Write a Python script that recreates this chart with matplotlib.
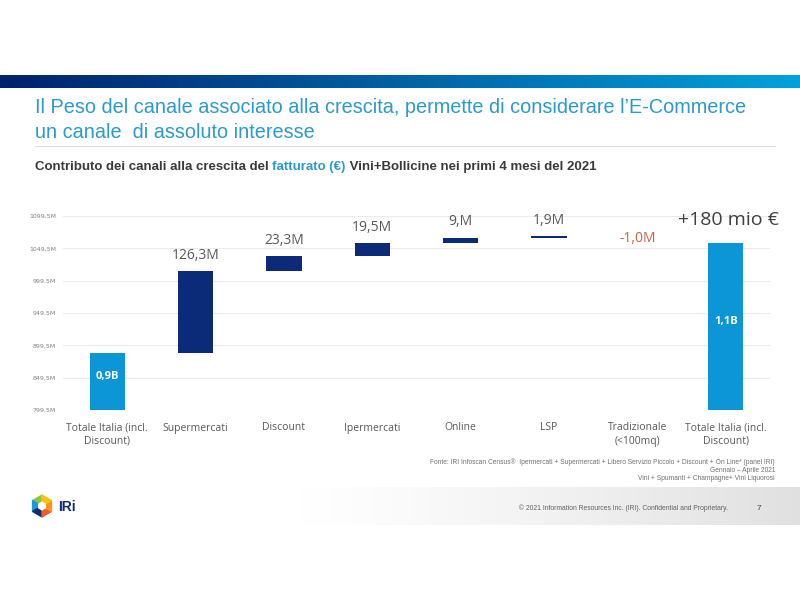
import numpy as np
import matplotlib
matplotlib.use("Agg")
import matplotlib.pyplot as plt
from matplotlib.patches import Polygon

# ---------------- data ----------------
categories = ["Totale Italia (incl.\nDiscount)", "Supermercati", "Discount", "Ipermercati",
              "Online", "LSP", "Tradizionale\n(<100mq)", "Totale Italia (incl.\nDiscount)"]
start_total = 888.0          # M€
deltas = [126.3, 23.3, 19.5, 9.0, 1.9, -1.0]   # M€
end_total = 1058.5           # M€
value_labels = ["0,9B", "126,3M", "23,3M", "19,5M", "9,M", "1,9M", "-1,0M", "1,1B"]
growth_label = "+180 mio €"
yticks = [799.5, 849.5, 899.5, 949.5, 999.5, 1049.5, 1099.5]

NAVY = "#0b2a78"
LIGHT = "#0d96d6"
RED = "#c9623f"
GREY = "#595959"
TITLE_BLUE = "#2b9ad0"

fig = plt.figure(figsize=(8, 6), dpi=100)
W, H = 800, 600

def fx(x): return x / W
def fy(y): return 1 - y / H

# ---------------- header band ----------------
band = fig.add_axes([0, fy(88.5), 1, (88.5 - 75) / H])
grad = np.linspace(0, 1, 256)
c0 = np.array([0/255, 33/255, 108/255])
c1 = np.array([0/255, 162/255, 220/255])
img = c0[None, :] * (1 - grad[:, None]) + c1[None, :] * grad[:, None]
band.imshow(img[None, :, :], aspect="auto", extent=[0, 1, 0, 1])
band.axis("off")

fig.text(fx(35), fy(108), "Il Peso del canale associato alla crescita, permette di considerare l’E-Commerce",
         color=TITLE_BLUE, fontsize=14.3, family="Liberation Sans", va="center", ha="left")
fig.text(fx(35), fy(133), "un canale  di assoluto interesse",
         color=TITLE_BLUE, fontsize=14.3, family="Liberation Sans", va="center", ha="left")
fig.add_artist(plt.Line2D([fx(35), fx(775)], [fy(146), fy(146)], color="#dcdcdc", lw=0.8))

# subtitle with coloured segment
parts = [("Contributo dei canali alla crescita del ", "#3a3a3a"),
         ("fatturato (€)", TITLE_BLUE),
         (" Vini+Bollicine nei primi 4 mesi del 2021", "#3a3a3a")]
fig.canvas.draw()
renderer = fig.canvas.get_renderer()
xcur = 35
for txt, col in parts:
    t = fig.text(fx(xcur), fy(167), txt, color=col, fontsize=9.5, fontweight="bold",
                 family="Liberation Sans", va="center", ha="left")
    bb = t.get_window_extent(renderer=renderer)
    xcur += bb.width

# ---------------- chart ----------------
ax = fig.add_axes([fx(63), fy(410), (770 - 63) / W, (410 - 216) / H])
n = len(categories)
x = np.arange(n)
bottoms, heights, colors = [], [], []
bottoms.append(0); heights.append(start_total); colors.append(LIGHT)
level = start_total
for d in deltas:
    bottoms.append(level if d >= 0 else level + d)
    heights.append(abs(d))
    colors.append(NAVY if d >= 0 else "#ffffff")
    level += d
bottoms.append(0); heights.append(end_total); colors.append(LIGHT)

ax.bar(x, heights, bottom=bottoms, width=0.4, color=colors, zorder=3)
ax.set_xlim(-0.5, n - 0.5)
ax.set_ylim(799.5, 1099.5)
ax.set_yticks(yticks)
ax.set_yticklabels([f"{v:.1f}M".replace(".", ",") for v in yticks])
ax.tick_params(axis="y", length=0, labelsize=4.5, labelcolor="#808080", pad=5)
ax.set_xticks(x)
ax.set_xticklabels(categories, fontsize=7.5, color=GREY, family="Open Sans", linespacing=1.3)
ax.tick_params(axis="x", length=0, pad=9)
ax.grid(axis="y", color="#ebebeb", lw=0.8, zorder=0)
for s in ax.spines.values():
    s.set_visible(False)

# value labels
tops = [b + h for b, h in zip(bottoms, heights)]
for i in range(1, n - 1):
    d = deltas[i - 1]
    if d < 0:
        ax.annotate(value_labels[i], (x[i], bottoms[i]), xytext=(0, -1), textcoords="offset points",
                    ha="center", va="center", fontsize=10, color=RED, family="Open Sans",
                    annotation_clip=False)
    else:
        ax.annotate(value_labels[i], (x[i], tops[i]), xytext=(0, 6), textcoords="offset points",
                    ha="center", va="bottom", fontsize=10, color=GREY, family="Open Sans",
                    annotation_clip=False)
ax.text(x[0], 849.5 + 2, value_labels[0], ha="center", va="center", color="white",
        fontsize=8, fontweight="bold", family="Open Sans", zorder=4)
ax.text(x[-1], 936, value_labels[-1], ha="center", va="center", color="white",
        fontsize=8, fontweight="bold", family="Open Sans", zorder=4)
ax.annotate(growth_label, (x[-1], end_total), xytext=(2, 10), textcoords="offset points",
            ha="center", va="bottom", fontsize=14, color="#404040", family="Open Sans",
            annotation_clip=False)

# ---------------- footer ----------------
src = ["Fonte: IRI Infoscan Census®  Ipermercati + Supermercati + Libero Servizio Piccolo + Discount + On Line* (panel IRI)",
       "Gennaio – Aprile 2021",
       "Vini + Spumanti + Champagne+ Vini Liquorosi"]
for k, s in enumerate(src):
    fig.text(fx(775), fy(462 + 8 * k), s, fontsize=4.8, color="#707070", ha="right", va="center",
             family="Liberation Sans")

gb = fig.add_axes([fx(300), fy(525), (800 - 300) / W, (525 - 487) / H])
g = np.linspace(0, 1, 256) ** 1.2
gimg = np.ones((1, 256, 3)) * (1 - 0.12 * g)[None, :, None]
gb.imshow(gimg, aspect="auto", extent=[0, 1, 0, 1])
gb.axis("off")
fig.text(fx(728), fy(508), "© 2021 Information Resources Inc. (IRI). Confidential and Proprietary.",
         fontsize=4.9, color="#606060", ha="right", va="center", family="Liberation Sans")
fig.text(fx(759), fy(508), "7", fontsize=6, color="#404040", ha="center", va="center",
         family="Liberation Sans")

# IRi logo
lg = fig.add_axes([fx(30), fy(518), 24 / W, 24 / H])
lg.set_xlim(-1.1, 1.1); lg.set_ylim(-1.1, 1.1); lg.axis("off")
ang = np.deg2rad(np.arange(90, 450, 60))
pts = np.c_[np.cos(ang), np.sin(ang)]
cols = ["#8cc63f", "#1a9ad6", "#0b2a78", "#f05a28", "#f7941d", "#fcc20f"]
for k in range(6):
    lg.add_patch(Polygon([[0, 0], pts[k], pts[(k + 1) % 6]], closed=True, color=cols[k]))
lg.add_patch(Polygon(0.35 * pts, closed=True, color="white"))
fig.text(fx(58), fy(507), "IRi", fontsize=10, fontweight="bold", color="#0b2a78",
         va="center", ha="left", family="Liberation Sans")

fig.savefig("out.png", dpi=100, facecolor="white")
